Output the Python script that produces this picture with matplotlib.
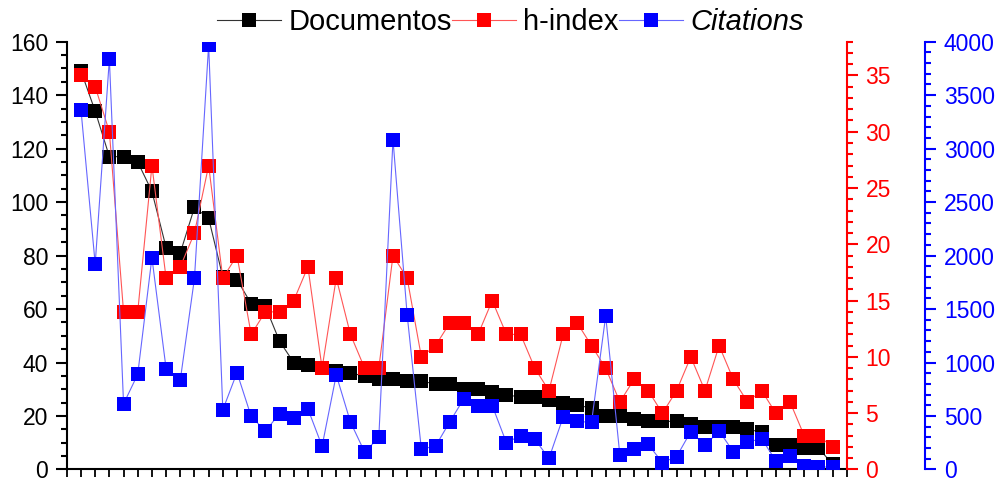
import matplotlib
matplotlib.use("Agg")
import matplotlib.pyplot as plt
from matplotlib.ticker import MultipleLocator
from matplotlib.lines import Line2D

plt.rcParams['font.family'] = ['Liberation Sans', 'DejaVu Sans']

# values (54 entries, in plotted order)
documentos = [149, 134, 117, 117, 115, 104, 83, 81, 98, 94,
              72, 71, 62, 61, 48, 40, 39, 38, 37, 36,
              35, 34, 34, 33, 33, 32, 32, 30, 30, 29,
              28, 27, 27, 26, 25, 24, 23, 20, 20, 19,
              18, 18, 18, 17, 16, 16, 16, 15, 14, 9,
              9, 8, 8, 2]
h_index = [35, 34, 30, 14, 14, 27, 17, 18, 21, 27,
           17, 19, 12, 14, 14, 15, 18, 9, 17, 12,
           9, 9, 19, 17, 10, 11, 13, 13, 12, 15,
           12, 12, 9, 7, 12, 13, 11, 9, 6, 8,
           7, 5, 7, 10, 7, 11, 8, 6, 7, 5,
           6, 3, 3, 2]
citations = [3360, 1920, 3840, 613, 890, 1981, 943, 835, 1787, 3970,
             558, 906, 496, 360, 521, 481, 567, 218, 884, 444,
             163, 299, 3085, 1445, 191, 218, 444, 662, 597, 597,
             250, 317, 283, 104, 490, 450, 440, 1436, 135, 194,
             234, 65, 120, 354, 225, 360, 166, 255, 289, 80,
             126, 33, 21, 25]
labels = ["Documentos", "h-index", "Citations"]

x = list(range(1, len(documentos) + 1))

fig = plt.figure(figsize=(9.99, 4.83), dpi=100)
ax = fig.add_axes([0.0669, 0.028, 0.7807, 0.8857])
ax2 = ax.twinx()
ax3 = ax.twinx()
ax3.spines['right'].set_position(('outward', 56.4))

ms = 10
ax.plot(x, documentos, color='#333333', lw=0.8, marker='s', ms=ms,
        mfc='black', mec='black', mew=0)
ax2.plot(x, h_index, color='#ff5555', lw=0.8, marker='s', ms=ms,
         mfc='red', mec='red', mew=0)
ax3.plot(x, citations, color='#6666ff', lw=0.8, marker='s', ms=ms,
         mfc='blue', mec='blue', mew=0)

ax.set_xlim(0, 55)
ax.set_ylim(0, 160)
ax2.set_ylim(0, 38)
ax3.set_ylim(0, 4000)

ax.xaxis.set_major_locator(MultipleLocator(1))
ax.set_xticklabels([])
ax.tick_params(axis='x', direction='out', length=5.5, width=1.3)

ax.yaxis.set_major_locator(MultipleLocator(20))
ax.yaxis.set_minor_locator(MultipleLocator(5))
ax2.yaxis.set_major_locator(MultipleLocator(5))
ax2.yaxis.set_minor_locator(MultipleLocator(1))
ax3.yaxis.set_major_locator(MultipleLocator(500))
ax3.yaxis.set_minor_locator(MultipleLocator(100))

for a, c in [(ax, 'black'), (ax2, 'red'), (ax3, 'blue')]:
    a.tick_params(axis='y', which='major', direction='out', length=8,
                  width=1.5, colors=c, labelsize=16.5, pad=5.5)
    a.tick_params(axis='y', which='minor', direction='out', length=4,
                  width=1.5, colors=c)
    a.spines['top'].set_visible(False)

ax.spines['left'].set_linewidth(1.5)
ax.spines['bottom'].set_linewidth(1.5)
ax.spines['right'].set_visible(False)
ax2.spines['left'].set_visible(False)
ax2.spines['bottom'].set_visible(False)
ax2.spines['right'].set_color('red')
ax2.spines['right'].set_linewidth(1.5)
ax3.spines['left'].set_visible(False)
ax3.spines['bottom'].set_visible(False)
ax3.spines['right'].set_color('blue')
ax3.spines['right'].set_linewidth(1.5)

handles = [
    Line2D([], [], color='#333333', lw=0.8, marker='s', ms=ms, mfc='black', mew=0),
    Line2D([], [], color='#ff5555', lw=0.8, marker='s', ms=ms, mfc='red', mew=0),
    Line2D([], [], color='#6666ff', lw=0.8, marker='s', ms=ms, mfc='blue', mew=0),
]
leg = fig.legend(handles, labels, loc='center', bbox_to_anchor=(0.511, 0.955),
                 ncol=3, frameon=False, fontsize=21, handlelength=2.2,
                 handletextpad=0.25, columnspacing=0.0, borderpad=0)
leg.get_texts()[2].set_style('italic')

fig.savefig("out.png", dpi=100)
